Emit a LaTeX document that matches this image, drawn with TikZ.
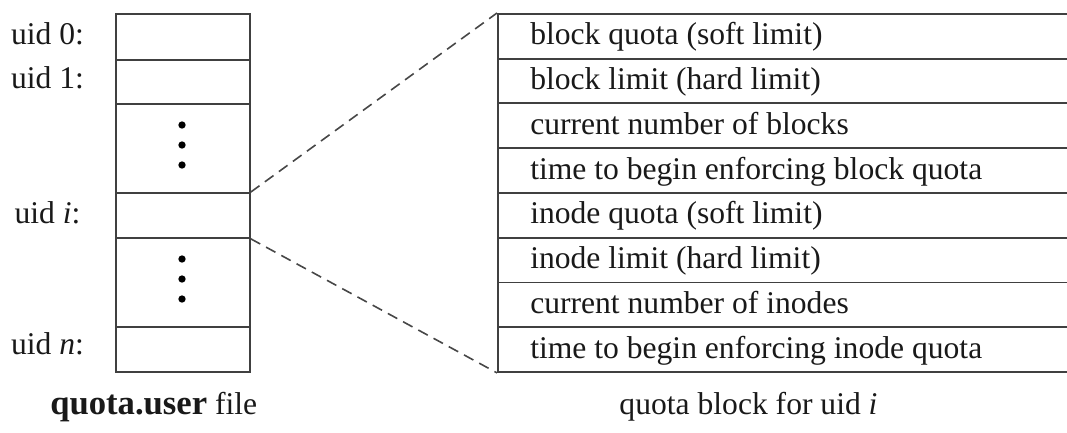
\documentclass[tikz,border=0pt]{standalone}
\usepackage{fontspec}
\setmainfont{Liberation Serif}
\begin{document}
\begin{tikzpicture}[x=0.75pt,y=-0.75pt,
  ln/.style={line width=1.4pt,draw=black!75},
  lcell/.style={ln,minimum width=100.5pt,inner sep=0pt,anchor=north west},
  rcell/.style={ln,minimum width=433.5pt,minimum height=33.56pt,inner sep=0pt,anchor=north west},
  txt/.style={font=\fontsize{23.7}{28}\selectfont,text=black!90,inner sep=0pt},
  rtxt/.style={txt,anchor=base west},
  dot/.style={circle,fill=black,inner sep=0pt,minimum size=5.5pt},
  zoomline/.style={line width=1.2pt,draw=black!72,dash pattern=on 8pt off 5pt}]
\useasboundingbox (0,0) rectangle (1067,432);
% left table
\node[lcell,minimum height=34.5pt] (l1) at (115,13) {};
\node[lcell,minimum height=33pt] (l2) at (115,59) {};
\node[lcell,minimum height=66.75pt] (l3) at (115,103) {};
\node[lcell,minimum height=33.75pt] (l4) at (115,192) {};
\node[lcell,minimum height=66.75pt] (l5) at (115,237) {};
\node[lcell,minimum height=33.75pt] (l6) at (115,326) {};
\node[dot] (d1) at (182,125) {};
\node[dot] (d2) at (182,145) {};
\node[dot] (d3) at (182,165) {};
\node[dot] (d4) at (182,259) {};
\node[dot] (d5) at (182,279) {};
\node[dot] (d6) at (182,299) {};
\node[txt,anchor=base] (u0) at (47.5,44) {uid 0:};
\node[txt,anchor=base] (u1) at (47.5,88) {uid 1:};
\node[txt,anchor=base] (ui) at (47.5,223) {uid \textit{i}:};
\node[txt,anchor=base] (un) at (47.5,354) {uid \textit{n}:};
\node[txt,anchor=base west] (cap1) at (50,414) {{\fontsize{26}{30}\selectfont\bfseries quota.user} file};
% right table
\foreach \i/\t in {1/block quota (soft limit),2/block limit (hard limit),3/current number of blocks,4/time to begin enforcing block quota,5/inode quota (soft limit),6/inode limit (hard limit),7/current number of inodes,8/time to begin enforcing inode quota}{
  \node[rcell] (r\i) at (497,{13+44.75*(\i-1)}) {};
  \node[rtxt] (t\i) at (530,{13+44.75*(\i-0.5)+9.5}) {\t};
}
\node[txt,anchor=base] (cap2) at (748.5,414) {quota block for uid \textit{i}};
% zoom lines
\draw[zoomline] (l4.north east) -- (r1.north west);
\draw[zoomline] (l4.south east) -- (r8.south west);
\end{tikzpicture}
\end{document}
